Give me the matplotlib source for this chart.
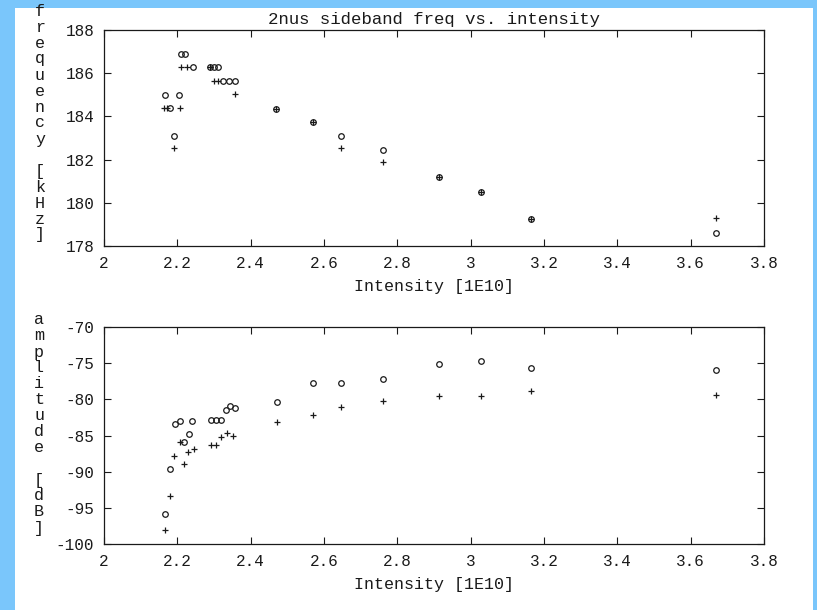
import matplotlib.pyplot as plt
from matplotlib.patches import Rectangle

# sideband frequency [kHz] vs intensity [1E10]
freq_o_x = [2.166, 2.205, 2.181, 2.191, 2.211, 2.222, 2.243, 2.289, 2.300, 2.312,
            2.325, 2.340, 2.358, 2.469, 2.569, 2.646, 2.760, 2.914, 3.027, 3.165, 3.670]
freq_o_y = [185.0, 185.0, 184.4, 183.1, 186.9, 186.9, 186.27, 186.27, 186.27, 186.27,
            185.65, 185.65, 185.65, 184.34, 183.73, 183.09, 182.46, 181.18, 180.51, 179.25, 178.6]
freq_p_x = [2.164, 2.173, 2.207, 2.191, 2.211, 2.225, 2.289, 2.300, 2.312, 2.358,
            2.469, 2.569, 2.646, 2.760, 2.914, 3.027, 3.165, 3.670]
freq_p_y = [184.4, 184.4, 184.4, 182.55, 186.27, 186.27, 186.27, 185.65, 185.65, 185.04,
            184.34, 183.73, 182.52, 181.87, 181.18, 180.51, 179.25, 179.28]

# sideband amplitude [dB]
amp_o_x = [2.166, 2.181, 2.193, 2.207, 2.218, 2.231, 2.241, 2.293, 2.305, 2.320,
           2.332, 2.343, 2.358, 2.471, 2.571, 2.646, 2.761, 2.914, 3.027, 3.165, 3.670]
amp_o_y = [-95.85, -89.6, -83.4, -83.0, -85.9, -84.8, -83.0, -82.8, -82.8, -82.8,
           -81.5, -80.9, -81.2, -80.3, -77.7, -77.7, -77.25, -75.07, -74.7, -75.6, -76.0]
amp_p_x = [2.166, 2.181, 2.191, 2.207, 2.218, 2.229, 2.245, 2.293, 2.306, 2.320,
           2.335, 2.352, 2.471, 2.571, 2.646, 2.761, 2.914, 3.027, 3.165, 3.670]
amp_p_y = [-98.0, -93.3, -87.8, -85.9, -88.9, -87.3, -86.9, -86.3, -86.3, -85.2,
           -84.7, -85.0, -83.07, -82.2, -81.1, -80.2, -79.5, -79.6, -78.9, -79.4]

x_ticks = [2, 2.2, 2.4, 2.6, 2.8, 3, 3.2, 3.4, 3.6, 3.8]
x_labels = ['2', '2.2', '2.4', '2.6', '2.8', '3', '3.2', '3.4', '3.6', '3.8']
freq_ticks = [178, 180, 182, 184, 186, 188]
amp_ticks = [-100, -95, -90, -85, -80, -75, -70]

FONT = 'Liberation Mono'
INK = '#1a1a1a'
W, H = 817, 610

plt.rcParams['font.family'] = [FONT, 'DejaVu Sans Mono']
plt.rcParams['axes.unicode_minus'] = False

fig = plt.figure(figsize=(W / 100, H / 100), dpi=100)
fig.patch.set_facecolor('#7ac6fb')
# white paper area of the scan
fig.patches.append(Rectangle((15 / W, 0), (813 - 15) / W, (H - 8) / H,
                             transform=fig.transFigure, facecolor='white',
                             edgecolor='none', zorder=-1))


def px(x, y):
    # pixel coords (top-left origin) -> figure fraction
    return x / W, 1 - y / H


def stacked_label(text, x, y_top, step=16):
    for i, ch in enumerate(text):
        if ch == ' ':
            continue
        fx, fy = px(x, y_top + i * step)
        fig.text(fx, fy, ch, ha='center', va='center', fontsize=12,
                 color=INK, family=FONT)


def style_axes(ax, yticks):
    ax.set_xlim(2, 3.8)
    ax.set_xticks(x_ticks)
    ax.set_xticklabels(x_labels)
    ax.set_yticks(yticks)
    ax.set_ylim(yticks[0], yticks[-1])
    ax.tick_params(direction='in', top=True, right=True, length=5, width=0.8,
                   labelsize=11.5, colors=INK, pad=7)
    for s in ax.spines.values():
        s.set_linewidth(0.9)
        s.set_color(INK)
    ax.set_xlabel('Intensity [1E10]', fontsize=12, color=INK, labelpad=6)
    ax.set_facecolor('white')


left, width = 104 / W, 660 / W
ax1 = fig.add_axes([left, 1 - 246 / H, width, 216 / H])
ax2 = fig.add_axes([left, 1 - 544 / H, width, 217 / H])

ax1.plot(freq_o_x, freq_o_y, 'o', ms=4, mfc='none', mec=INK, mew=0.9)
ax1.plot(freq_p_x, freq_p_y, '+', ms=5, color=INK, mew=0.9)
style_axes(ax1, freq_ticks)
ax1.set_title('2nus sideband freq vs. intensity', fontsize=12.5, color=INK, pad=4)

ax2.plot(amp_o_x, amp_o_y, 'o', ms=4, mfc='none', mec=INK, mew=0.9)
ax2.plot(amp_p_x, amp_p_y, '+', ms=5, color=INK, mew=0.9)
style_axes(ax2, amp_ticks)

stacked_label('frequency [kHz]', 40, 11)
stacked_label('amplitude [dB]', 39, 320)

fig.savefig('out.png', dpi=100, facecolor=fig.get_facecolor())
